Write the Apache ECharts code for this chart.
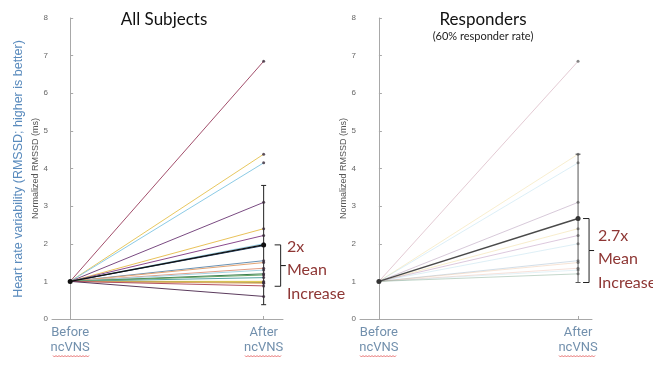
<!DOCTYPE html>
<html><head><meta charset="utf-8">
<script src="https://cdn.jsdelivr.net/npm/echarts@6/dist/echarts.min.js"></script>
<style>html,body{margin:0;padding:0;background:#fff}#c{width:653px;height:367px}</style>
</head><body><div id="c"></div>
<script>
// ---- data ----
const categories = ['Before\nncVNS', 'After\nncVNS'];
const catPos = [0, 1];
const baseline = 1;
const allAfter = [6.85, 4.38, 4.15, 3.1, 2.4, 2.22, 2.0, 1.95, 1.55, 1.5, 1.35, 1.3, 1.2, 1.17, 1.1, 1.0, 0.97, 0.95, 0.88, 0.6];
const allColors = ['#a34f6c', '#e8c860', '#8ccbe6', '#7a4b82', '#e9c25a', '#8b4a8e', '#93cbe2', '#2b4a72', '#6a92b4', '#e4a574', '#e39c84', '#a6d4e4', '#3b7b52', '#63a463', '#56a4a4', '#e2c444', '#a3a446', '#e2a464', '#b25262', '#5b3b5d'];
const allMean = 1.97;
const allErr = [0.38, 3.55];
const respAfter = [6.85, 4.38, 4.15, 3.1, 2.4, 2.22, 2.0, 1.55, 1.5, 1.35, 1.3, 1.2];
const respColors = ['#a34f6c', '#e8c860', '#8ccbe6', '#7a4b82', '#e9c25a', '#8b4a8e', '#93cbe2', '#6a92b4', '#e4a574', '#e39c84', '#a6d4e4', '#3b7b52'];
const respMean = 2.67;
const respErr = [0.97, 4.38];
const bracketAll = [0.87, 1.97];
const bracketResp = [0.97, 2.67];
const titles = ['All Subjects', 'Responders'];
const subtitle = '(60% responder rate)';
const yName = 'Normalized RMSSD (ms)';
const bigYName = 'Heart rate variability (RMSSD; higher is better)';
const notes = [['2x', 'Mean', 'Increase'], ['2.7x', 'Mean', 'Increase']];

// ---- build ----
const chart = echarts.init(document.getElementById('c'));
const axisCol = '#a8a8a8';
const noteCol = '#8e3634';
const catCol = '#7290ad';

function xAxis(grid, min, max) {
  return {
    type: 'value', gridIndex: grid, min: min, max: max,
    axisLine: { show: true, lineStyle: { color: axisCol, width: 1 } },
    axisTick: { show: true, inside: true, length: 3, customValues: catPos, lineStyle: { color: axisCol } },
    axisLabel: { customValues: catPos, formatter: v => categories[Math.round(v)], color: catCol,
      fontFamily: 'Roboto', fontSize: 13, lineHeight: 15, margin: 6 },
    splitLine: { show: false }
  };
}
function yAxis(grid) {
  return {
    type: 'value', gridIndex: grid, min: 0, max: 8, interval: 1,
    name: yName, nameLocation: 'middle', nameGap: 12,
    nameTextStyle: { color: '#555', fontSize: 9, fontFamily: 'Liberation Sans' },
    axisLine: { show: true, lineStyle: { color: axisCol, width: 1 } },
    axisTick: { show: true, inside: true, length: 3, lineStyle: { color: axisCol } },
    axisLabel: { color: '#666', fontSize: 8, margin: 4, fontFamily: 'Liberation Sans' },
    splitLine: { show: false }
  };
}

function errSeries(grid, err, color) {
  return {
    type: 'custom', xAxisIndex: grid, yAxisIndex: grid, z: 5,
    data: [[1, err[0], err[1]]],
    renderItem: (params, api) => {
      const lo = api.coord([api.value(0), api.value(1)]);
      const hi = api.coord([api.value(0), api.value(2)]);
      const w = 2.5;
      return { type: 'group', children: [
        { type: 'line', shape: { x1: lo[0], y1: lo[1], x2: hi[0], y2: hi[1] }, style: { stroke: color, lineWidth: 1 } },
        { type: 'line', shape: { x1: lo[0] - w, y1: lo[1], x2: lo[0] + w, y2: lo[1] }, style: { stroke: color, lineWidth: 1 } },
        { type: 'line', shape: { x1: hi[0] - w, y1: hi[1], x2: hi[0] + w, y2: hi[1] }, style: { stroke: color, lineWidth: 1 } }
      ]};
    }
  };
}
function bracketSeries(grid, br, dx) {
  return {
    type: 'custom', xAxisIndex: grid, yAxisIndex: grid, z: 6, silent: true,
    data: [[1, br[0], br[1]]],
    renderItem: (params, api) => {
      const lo = api.coord([api.value(0), api.value(1)]);
      const hi = api.coord([api.value(0), api.value(2)]);
      const x = lo[0] + dx, c = 6, n = 5, m = (lo[1] + hi[1]) / 2;
      return { type: 'polyline', shape: { points: [[x - c, hi[1]], [x, hi[1]], [x, m], [x + n, m], [x, m], [x, lo[1]], [x - c, lo[1]]] },
        style: { stroke: '#222', lineWidth: 1, fill: null } };
    }
  };
}

const series = [];
allAfter.forEach((v, i) => {
  series.push({ type: 'line', xAxisIndex: 0, yAxisIndex: 0, data: [[0, baseline], [1, v]],
    showSymbol: false, lineStyle: { color: allColors[i], width: 1 }, z: 2, silent: true });
});
series.push({ type: 'scatter', xAxisIndex: 0, yAxisIndex: 0, data: allAfter.map(v => [1, v]),
  symbolSize: 3, itemStyle: { color: '#3a2a3a' }, z: 6 });
series.push({ type: 'line', xAxisIndex: 0, yAxisIndex: 0, data: [[0, baseline], [1, allMean]],
  showSymbol: true, symbol: 'circle', symbolSize: 5, itemStyle: { color: '#111' }, lineStyle: { color: '#111', width: 1.5 }, z: 7 });
series.push(errSeries(0, allErr, '#222'));
series.push(bracketSeries(0, bracketAll, 17));

respAfter.forEach((v, i) => {
  series.push({ type: 'line', xAxisIndex: 1, yAxisIndex: 1, data: [[0, baseline], [1, v]],
    showSymbol: false, lineStyle: { color: respColors[i], width: 1, opacity: 0.3 }, z: 2, silent: true });
});
series.push({ type: 'scatter', xAxisIndex: 1, yAxisIndex: 1, data: respAfter.map(v => [1, v]),
  symbolSize: 3, itemStyle: { color: '#555', opacity: 0.7 }, z: 6 });
series.push({ type: 'line', xAxisIndex: 1, yAxisIndex: 1, data: [[0, baseline], [1, respMean]],
  showSymbol: true, symbol: 'circle', symbolSize: 5, itemStyle: { color: '#333' }, lineStyle: { color: '#4a4a4a', width: 1.5 }, z: 7 });
series.push(errSeries(1, respErr, '#555'));
series.push(bracketSeries(1, bracketResp, 11));

function wavy(x0, x1, y) {
  const pts = [];
  for (let x = x0, k = 0; x <= x1; x += 1.5, k++) pts.push([x, y + (k % 2 ? 1 : -0.5)]);
  return { type: 'polyline', shape: { points: pts }, style: { stroke: '#e05050', lineWidth: 0.8, fill: null }, silent: true };
}
function noteText(x, y, lines) {
  return { type: 'text', x: x, y: y, style: { text: lines.join('\n'), fill: noteCol, font: '16px Lato', lineHeight: 23.5, align: 'left', verticalAlign: 'middle' } };
}

chart.setOption({
  animation: false,
  backgroundColor: '#fff',
  title: [
    { text: titles[0], left: 159, top: 6, textAlign: 'center', textStyle: { fontFamily: 'Lato', fontSize: 17, fontWeight: 'normal', color: '#111' } },
    { text: titles[1], subtext: subtitle, left: 478, top: 6, textAlign: 'center', itemGap: 3,
      textStyle: { fontFamily: 'Lato', fontSize: 17, fontWeight: 'normal', color: '#111' },
      subtextStyle: { fontFamily: 'Lato', fontSize: 11, color: '#222' } }
  ],
  grid: [
    { left: 52, top: 18, width: 231, height: 301 },
    { left: 360, top: 18, width: 232, height: 301 }
  ],
  xAxis: [xAxis(0, -0.094, 1.1), xAxis(1, -0.095, 1.07)],
  yAxis: [yAxis(0), yAxis(1)],
  series: series,
  graphic: [
    { type: 'text', x: 19, y: 169, rotation: Math.PI / 2,
      style: { text: bigYName, fill: '#5a8bbd', font: '12.5px Liberation Sans', align: 'center', verticalAlign: 'middle' } },
    noteText(287, 270, notes[0]),
    noteText(598, 259, notes[1]),
    wavy(53, 89, 356), wavy(245, 282, 356), wavy(360, 396, 356), wavy(559, 596, 356)
  ]
});
</script></body></html>
